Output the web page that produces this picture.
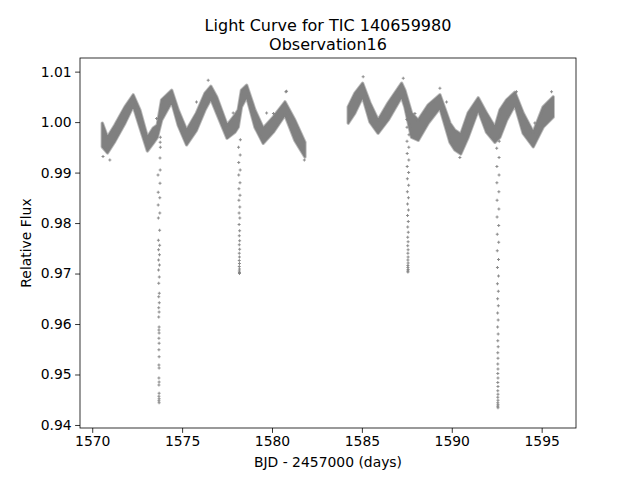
<!DOCTYPE html>
<html>
<head>
<meta charset="utf-8">
<script src="https://cdn.jsdelivr.net/npm/d3@7"></script>
<style>
  body { margin: 0; background: #fff; }
  text { font-family: "DejaVu Sans", sans-serif; fill: #000; }
</style>
</head>
<body>
<div id="chart"></div>
<script>
// Light curve: the dense band is kept as an upper/lower
// envelope per orbit, the transit columns and stray points as single samples.
const orbit1Time = [1570.56, 1570.85, 1571.26, 1571.82, 1572.28, 1572.65, 1573.07, 1573.39, 1573.62,
  1573.86, 1574.42, 1574.78, 1575.25, 1575.80, 1576.27, 1576.60, 1576.92, 1577.50, 1577.94,
  1578.12, 1578.30, 1578.59, 1579.05, 1579.51, 1580.07, 1580.72, 1581.27, 1581.83];
const orbit1Upper = [0.9998, 0.9970, 0.9994, 1.0030, 1.0054, 1.0024, 0.9970, 0.9988, 0.9994,
  1.0044, 1.0063, 1.0024, 0.9984, 1.0018, 1.0057, 1.0071, 1.0050, 0.9994, 1.0014,
  1.0024, 1.0063, 1.0073, 1.0024, 0.9988, 1.0010, 1.0040, 1.0004, 0.9960];
const orbit1Lower = [0.9951, 0.9939, 0.9962, 0.9998, 1.0032, 0.9990, 0.9943, 0.9958, 0.9970,
  1.0004, 1.0040, 0.9994, 0.9955, 0.9984, 1.0024, 1.0046, 1.0018, 0.9968, 0.9980,
  0.9990, 1.0030, 1.0050, 0.9990, 0.9958, 0.9980, 1.0014, 0.9964, 0.9931];

const orbit2Time = [1584.24, 1584.61, 1585.04, 1585.45, 1585.90, 1586.46, 1587.21, 1587.39,
  1587.76, 1588.13, 1588.69, 1589.34, 1589.90, 1590.17, 1590.50, 1590.91, 1591.47, 1591.93,
  1592.40, 1592.68, 1593.05, 1593.51, 1593.97, 1594.53, 1595.08, 1595.64];
const orbit2Upper = [1.0030, 1.0057, 1.0077, 1.0038, 1.0004, 1.0038, 1.0077, 1.0063,
  1.0018, 1.0004, 1.0034, 1.0054, 0.9998, 0.9984, 0.9976, 1.0018, 1.0048, 1.0018,
  0.9990, 1.0024, 1.0044, 1.0059, 1.0018, 0.9980, 1.0030, 1.0050];
const orbit2Lower = [0.9998, 1.0018, 1.0050, 1.0000, 0.9978, 1.0004, 1.0050, 1.0030,
  0.9970, 0.9964, 0.9998, 1.0028, 0.9960, 0.9945, 0.9937, 0.9970, 1.0024, 0.9980,
  0.9960, 0.9970, 1.0004, 1.0034, 0.9978, 0.9951, 0.9990, 1.0010];

// transit columns: [BJD - 2457000, relative flux]
const transit1 = [[1573.79, 0.9970], [1573.78, 0.9960], [1573.79, 0.9950], [1573.77, 0.9929],
  [1573.78, 0.9905], [1573.66, 0.9895], [1573.77, 0.9879], [1573.67, 0.9861], [1573.76, 0.9850],
  [1573.67, 0.9836], [1573.76, 0.9820], [1573.68, 0.9810], [1573.75, 0.9786], [1573.68, 0.9766],
  [1573.75, 0.9756], [1573.69, 0.9747], [1573.74, 0.9737], [1573.69, 0.9727], [1573.74, 0.9717],
  [1573.69, 0.9707], [1573.73, 0.9693], [1573.70, 0.9681], [1573.73, 0.9661], [1573.70, 0.9654],
  [1573.73, 0.9642], [1573.70, 0.9632], [1573.72, 0.9624], [1573.70, 0.9614], [1573.72, 0.9594],
  [1573.71, 0.9588], [1573.72, 0.9582], [1573.71, 0.9572], [1573.72, 0.9562], [1573.71, 0.9549],
  [1573.72, 0.9535], [1573.71, 0.9519], [1573.72, 0.9513], [1573.71, 0.9493], [1573.72, 0.9485],
  [1573.71, 0.9479], [1573.72, 0.9463], [1573.71, 0.9457], [1573.72, 0.9452], [1573.71, 0.9448],
  [1573.72, 0.9444]];
const transit2 = [[1578.24, 0.9965], [1578.14, 0.9950], [1578.23, 0.9935], [1578.15, 0.9920],
  [1578.23, 0.9905], [1578.15, 0.9895], [1578.22, 0.9880], [1578.16, 0.9868], [1578.22, 0.9855],
  [1578.16, 0.9845], [1578.21, 0.9832], [1578.17, 0.9820], [1578.21, 0.9810], [1578.17, 0.9797],
  [1578.20, 0.9785], [1578.18, 0.9775], [1578.20, 0.9765], [1578.18, 0.9757], [1578.20, 0.9748],
  [1578.18, 0.9740], [1578.19, 0.9733], [1578.18, 0.9726], [1578.19, 0.9720], [1578.18, 0.9714],
  [1578.19, 0.9709], [1578.18, 0.9705], [1578.19, 0.9702], [1578.19, 0.9700]];
const transit3 = [[1587.50, 1.0020], [1587.50, 1.0005], [1587.51, 0.9990], [1587.62, 0.9975],
  [1587.51, 0.9962], [1587.61, 0.9950], [1587.52, 0.9938], [1587.61, 0.9925], [1587.52, 0.9912],
  [1587.60, 0.9900], [1587.53, 0.9888], [1587.60, 0.9875], [1587.53, 0.9862], [1587.59, 0.9850],
  [1587.54, 0.9838], [1587.59, 0.9826], [1587.54, 0.9815], [1587.58, 0.9803], [1587.55, 0.9792],
  [1587.58, 0.9782], [1587.55, 0.9772], [1587.57, 0.9763], [1587.55, 0.9755], [1587.57, 0.9747],
  [1587.56, 0.9740], [1587.57, 0.9733], [1587.56, 0.9727], [1587.57, 0.9721], [1587.56, 0.9716],
  [1587.56, 0.9712], [1587.57, 0.9708], [1587.56, 0.9705], [1587.56, 0.9703]];
const transit4 = [[1592.64, 0.9962], [1592.50, 0.9948], [1592.63, 0.9930], [1592.51, 0.9912],
  [1592.63, 0.9895], [1592.51, 0.9880], [1592.62, 0.9862], [1592.52, 0.9845], [1592.62, 0.9828],
  [1592.52, 0.9812], [1592.61, 0.9795], [1592.53, 0.9778], [1592.61, 0.9762], [1592.53, 0.9745],
  [1592.60, 0.9728], [1592.54, 0.9712], [1592.60, 0.9695], [1592.54, 0.9680], [1592.59, 0.9665],
  [1592.55, 0.9650], [1592.59, 0.9636], [1592.55, 0.9622], [1592.58, 0.9608], [1592.55, 0.9594],
  [1592.58, 0.9580], [1592.56, 0.9567], [1592.58, 0.9555], [1592.56, 0.9543], [1592.57, 0.9532],
  [1592.56, 0.9521], [1592.57, 0.9511], [1592.56, 0.9502], [1592.57, 0.9493], [1592.56, 0.9484],
  [1592.57, 0.9476], [1592.56, 0.9468], [1592.57, 0.9461], [1592.56, 0.9455], [1592.57, 0.9449],
  [1592.56, 0.9444], [1592.57, 0.9440], [1592.56, 0.9437], [1592.57, 0.9434]];

// stray points above / below the band
const outliers = [[1576.45, 1.0083], [1580.77, 1.0060], [1577.84, 1.0018], [1579.70, 1.0018],
  [1580.08, 1.0017], [1573.58, 1.0007], [1575.80, 1.0040], [1570.98, 0.9925], [1585.07, 1.0090],
  [1587.30, 1.0087], [1589.34, 1.0067], [1589.71, 1.0040], [1587.95, 1.0017], [1595.55, 1.0060],
  [1593.60, 1.0060], [1591.10, 1.0024], [1594.62, 0.9998], [1580.81, 1.0061], [1570.60, 0.9932],
  [1590.45, 0.9930], [1581.80, 0.9925]];

const xTicks = [1570, 1575, 1580, 1585, 1590, 1595];
const yTicks = [0.94, 0.95, 0.96, 0.97, 0.98, 0.99, 1.00, 1.01];

const width = 640;
const height = 480;
const margin = { left: 80, right: 64, top: 58, bottom: 52 };
const pointColor = "#808080";

const svg = d3
  .select("#chart")
  .append("svg")
  .attr("width", width)
  .attr("height", height);

const x = d3
  .scaleLinear()
  .domain([1569.32, 1596.91])
  .range([margin.left, width - margin.right]);

const y = d3
  .scaleLinear()
  .domain([0.9394, 1.0127])
  .range([height - margin.bottom, margin.top]);

const plot = svg.append("g");

// dense band, one area per orbit (soft edge stroke mimics the scattered rim)
function drawBand(times, upper, lower) {
  const rows = times.map((t, i) => ({ t, hi: upper[i], lo: lower[i] }));
  const area = d3
    .area()
    .x((d) => x(d.t))
    .y0((d) => y(d.lo))
    .y1((d) => y(d.hi));
  plot
    .append("path")
    .datum(rows)
    .attr("d", area)
    .attr("fill", pointColor)
    .attr("stroke", pointColor)
    .attr("stroke-opacity", 0.55)
    .attr("stroke-width", 3.4)
    .attr("stroke-linejoin", "round");
  plot
    .append("path")
    .datum(rows)
    .attr("d", area)
    .attr("fill", "none")
    .attr("stroke", pointColor)
    .attr("stroke-width", 1.6)
    .attr("stroke-linejoin", "round");
}

drawBand(orbit1Time, orbit1Upper, orbit1Lower);
drawBand(orbit2Time, orbit2Upper, orbit2Lower);

const marker = d3.symbol().type(d3.symbolCross).size(5);
const samples = [].concat(transit1, transit2, transit3, transit4, outliers);

plot
  .selectAll(".pt")
  .data(samples)
  .enter()
  .append("path")
  .attr("class", "pt")
  .attr("d", marker)
  .attr("transform", (d) => `translate(${x(d[0])},${y(d[1])})`)
  .attr("fill", pointColor)
  .attr("opacity", 0.9);

// axes
const xAxis = d3
  .axisBottom(x)
  .tickValues(xTicks)
  .tickSize(4.9)
  .tickPadding(3.5)
  .tickFormat(d3.format("d"));
const yAxis = d3
  .axisLeft(y)
  .tickValues(yTicks)
  .tickSize(4.9)
  .tickPadding(3.5)
  .tickFormat(d3.format(".2f"));

const gx = svg
  .append("g")
  .attr("transform", `translate(0,${height - margin.bottom})`)
  .call(xAxis);
const gy = svg
  .append("g")
  .attr("transform", `translate(${margin.left},0)`)
  .call(yAxis);

[gx, gy].forEach((g) => {
  g.select(".domain").remove();
  g.selectAll("line").attr("stroke", "#000").attr("stroke-width", 0.8);
  g.selectAll("text")
    .attr("fill", "#000")
    .style("font-family", "DejaVu Sans, sans-serif")
    .style("font-size", "13.9px");
});

svg
  .append("rect")
  .attr("x", margin.left)
  .attr("y", margin.top)
  .attr("width", width - margin.left - margin.right)
  .attr("height", height - margin.top - margin.bottom)
  .attr("fill", "none")
  .attr("stroke", "#000")
  .attr("stroke-width", 0.8);

// labels
const cx = (margin.left + width - margin.right) / 2;
svg
  .append("text")
  .attr("x", cx)
  .attr("y", 31)
  .attr("text-anchor", "middle")
  .style("font-size", "16px")
  .text("Light Curve for TIC 140659980");
svg
  .append("text")
  .attr("x", cx)
  .attr("y", 50)
  .attr("text-anchor", "middle")
  .style("font-size", "16px")
  .text("Observation16");

svg
  .append("text")
  .attr("x", cx)
  .attr("y", 467)
  .attr("text-anchor", "middle")
  .style("font-size", "13.9px")
  .text("BJD - 2457000 (days)");

svg
  .append("text")
  .attr("transform", `translate(31,${(margin.top + height - margin.bottom) / 2}) rotate(-90)`)
  .attr("text-anchor", "middle")
  .style("font-size", "13.9px")
  .text("Relative Flux");
</script>
</body>
</html>
